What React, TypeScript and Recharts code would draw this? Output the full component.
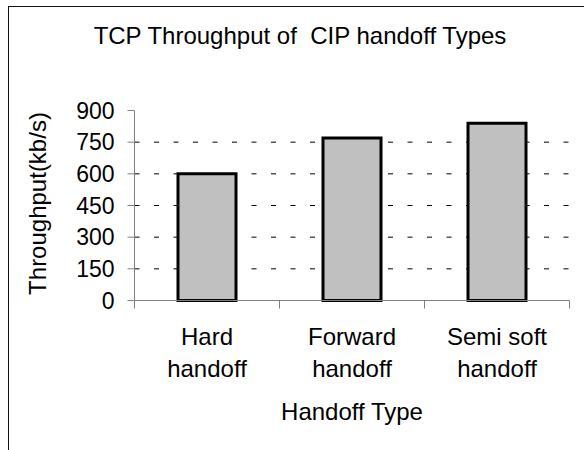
import React from "react";
import { BarChart, Bar, XAxis, YAxis, CartesianGrid } from "recharts";

const categories: string[] = ["Hard handoff", "Forward handoff", "Semi soft handoff"];
const throughput: number[] = [600, 770, 840];
const yTicks: number[] = [0, 150, 300, 450, 600, 750, 900];
const gridTicks: number[] = [150, 300, 450, 600, 750];

const title = "TCP Throughput of  CIP handoff Types";
const xTitle = "Handoff Type";
const yTitle = "Throughput(kb/s)";

const FONT = '"Liberation Sans", Arial, sans-serif';

const data = categories.map((c, i) => ({ name: c, value: throughput[i] }));

function splitLabel(s: string): string[] {
  const idx = s.lastIndexOf(" ");
  if (idx < 0) return [s];
  return [s.slice(0, idx), s.slice(idx + 1)];
}

const XTick = (props: any) => {
  const { x, y, payload, index, visibleTicksCount } = props;
  const off = payload && typeof payload.offset === "number" ? payload.offset : 72.5;
  const axisY = y - 8;
  const lines = splitLabel(String(payload.value));
  return (
    <g>
      <line x1={x - off} x2={x - off} y1={axisY} y2={axisY + 8} stroke="#808080" strokeWidth={1} />
      {index === visibleTicksCount - 1 && (
        <line x1={x + off} x2={x + off} y1={axisY} y2={axisY + 8} stroke="#808080" strokeWidth={1} />
      )}
      <text x={x} y={axisY + 44.5} textAnchor="middle" fontFamily={FONT} fontSize={24} fill="#000">
        {lines.map((l, i) => (
          <tspan key={i} x={x} dy={i === 0 ? 0 : 31.7}>
            {l}
          </tspan>
        ))}
      </text>
      {index === 1 && (
        <text x={x} y={axisY + 119.5} textAnchor="middle" fontFamily={FONT} fontSize={24} fill="#000">
          {xTitle}
        </text>
      )}
    </g>
  );
};

const YLabel = (props: any) => {
  const vb = props.viewBox || { x: 0, y: 110, width: 135, height: 190 };
  const cx = vb.x + 46;
  const cy = vb.y + vb.height / 2 - 2;
  return (
    <text
      x={cx}
      y={cy}
      transform={`rotate(-90 ${cx} ${cy})`}
      textAnchor="middle"
      fontFamily={FONT}
      fontSize={24}
      fill="#000"
    >
      {yTitle}
    </text>
  );
};

export default function App() {
  return (
    <div style={{ position: "absolute", left: 0, top: 0, width: 584, height: 450, overflow: "hidden", background: "#fff" }}>
      <BarChart
        width={584}
        height={450}
        data={data}
        margin={{ top: 110.5, right: 14.5, bottom: 29.5, left: 0 }}
        barCategoryGap="30%"
      >
        <CartesianGrid
          vertical={false}
          horizontalValues={gridTicks}
          stroke="#000"
          strokeDasharray="5 14.5"
        />
        <XAxis
          dataKey="name"
          height={120}
          interval={0}
          tickLine={false}
          tickSize={8}
          tickMargin={0}
          axisLine={{ stroke: "#808080", strokeWidth: 1 }}
          tick={<XTick />}
        />
        <YAxis
          width={134.5}
          domain={[0, 900]}
          ticks={yTicks}
          type="number"
          interval={0}
          tickSize={7}
          tickMargin={13}
          axisLine={{ stroke: "#808080", strokeWidth: 1 }}
          tickLine={{ stroke: "#808080", strokeWidth: 1 }}
          tick={{ fontFamily: FONT, fontSize: 23, fill: "#000" }}
          label={<YLabel />}
        />
        <Bar dataKey="value" fill="#C0C0C0" stroke="#000" strokeWidth={3} isAnimationActive={false} />
      </BarChart>
      <svg width={584} height={450} style={{ position: "absolute", left: 0, top: 0, pointerEvents: "none" }}>
        <rect x={8.5} y={6.5} width={700} height={600} fill="none" stroke="#111" strokeWidth={1} />
        <text
          x={300}
          y={44}
          textAnchor="middle"
          fontFamily={FONT}
          fontSize={24}
          fill="#000"
          style={{ whiteSpace: "pre" }}
        >
          {title}
        </text>
      </svg>
    </div>
  );
}
